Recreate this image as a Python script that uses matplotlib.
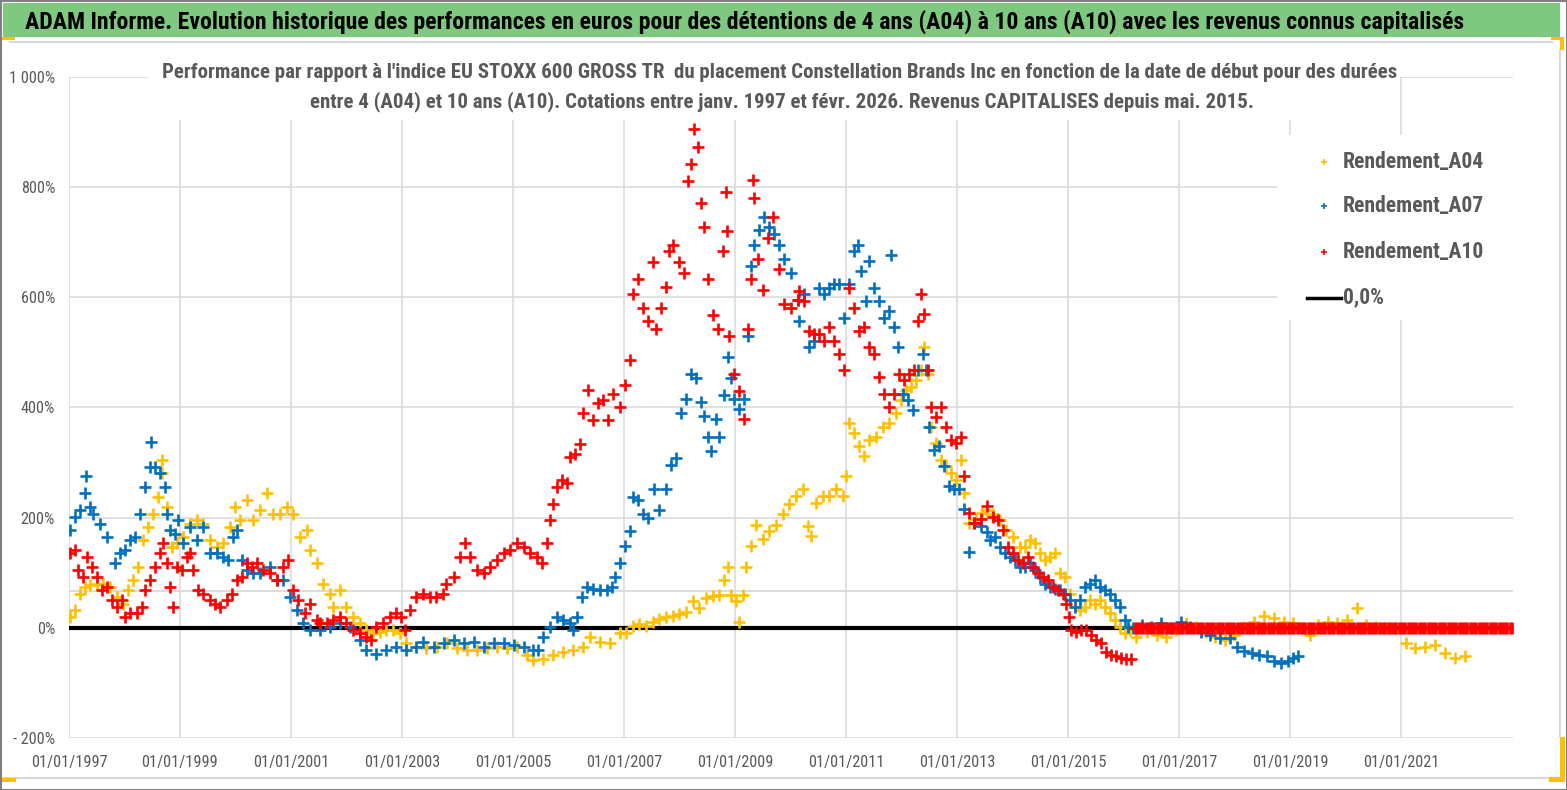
import numpy as np
import matplotlib
matplotlib.use("Agg")
import matplotlib.pyplot as plt
from matplotlib import font_manager as fm
from matplotlib.patches import Rectangle
from matplotlib.lines import Line2D

# ---------------- data (decimal year, % performance) ----------------
a04_years = [1997.02,1997.11,1997.20,1997.29,1997.38,1997.50,1997.62,1997.74,1997.86,1997.98,
             1998.07,1998.16,1998.25,1998.34,1998.43,1998.52,1998.61,1998.67,1998.68,1998.76,
             1998.85,1998.94,1999.06,1999.18,1999.30,1999.42,1999.54,1999.66,1999.78,1999.90,
             1999.99,2000.08,2000.20,2000.32,2000.44,2000.56,2000.68,2000.80,2000.92,2001.04,
             2001.16,2001.28,2001.34,2001.46,2001.58,2001.70,2001.76,2001.88,2002.00,2002.12,
             2002.24,2002.36,2002.48,2002.60,2002.72,2002.84,2002.96,2003.08,2003.26,2003.44,
             2003.63,2003.81,2003.99,2004.17,2004.35,2004.53,2004.71,2004.89,2005.07,2005.25,
             2005.37,2005.55,2005.73,2005.91,2006.09,2006.27,2006.39,2006.57,2006.75,2006.93,
             2007.04,2007.16,2007.28,2007.40,2007.52,2007.64,2007.76,2007.88,2008.00,2008.12,
             2008.24,2008.36,2008.48,2008.60,2008.72,2008.81,2008.87,2008.93,2009.02,2009.08,
             2009.14,2009.20,2009.29,2009.38,2009.50,2009.62,2009.74,2009.86,2009.98,2010.10,
             2010.22,2010.31,2010.37,2010.46,2010.58,2010.70,2010.82,2010.94,2011.01,2011.06,
             2011.15,2011.24,2011.33,2011.42,2011.54,2011.66,2011.78,2011.90,2011.99,2012.08,
             2012.17,2012.26,2012.35,2012.41,2012.47,2012.53,2012.62,2012.71,2012.80,2012.89,
             2012.98,2013.07,2013.13,2013.22,2013.34,2013.46,2013.53,2013.65,2013.77,2013.89,
             2014.01,2014.13,2014.22,2014.31,2014.40,2014.49,2014.58,2014.67,2014.76,2014.85,
             2014.94,2015.03,2015.12,2015.21,2015.30,2015.39,2015.48,2015.57,2015.66,2015.75,
             2015.84,2015.93,2016.02,2016.11,2016.23,2016.42,2016.60,2016.77,2016.95,2017.12,
             2017.30,2017.48,2017.65,2017.83,2018.00,2018.18,2018.36,2018.53,2018.71,2018.89,
             2019.06,2019.24,2019.37,2019.50,2019.68,2019.85,2020.03,2020.21,2020.38,2020.56,
             2020.74,2020.91,2021.09,2021.26,2021.44,2021.62,2021.79,2021.97,2022.15]
a04_values = [20,32,62,74,77,80,80,74,56,44,
              68,86,111,159,183,207,238,280,304,219,
              147,153,165,189,195,189,159,147,153,183,
              219,195,231,195,213,244,207,207,219,207,
              165,177,141,117,80,62,38,68,38,20,
              8,-4,-10,-7,-4,-4,-10,-28,-34,-37,
              -34,-28,-37,-40,-40,-37,-34,-37,-34,-50,
              -59,-56,-50,-44,-40,-34,-16,-25,-28,-10,
              -10,3,6,3,10,16,19,22,25,28,
              48,35,54,57,60,86,111,60,48,10,
              60,111,149,187,162,175,187,206,225,239,
              251,185,167,227,239,239,251,239,275,371,
              353,329,311,341,347,365,371,389,413,431,
              437,449,467,509,461,365,335,305,293,281,
              269,305,245,191,197,209,213,207,195,177,
              165,147,147,159,153,135,123,129,135,99,
              92,62,38,32,38,50,44,50,38,26,
              14,2,-10,-4,-16,-7,-13,-16,-4,8,
              2,-7,-16,-22,-13,2,11,21,18,11,
              8,-1,-13,5,11,8,15,36,5,2,
              -1,-1,-28,-37,-34,-31,-46,-55,-52]

a07_years = [1997.02,1997.11,1997.20,1997.29,1997.31,1997.38,1997.44,1997.56,1997.68,1997.83,
             1997.92,1998.01,1998.10,1998.19,1998.28,1998.37,1998.46,1998.47,1998.55,1998.64,
             1998.73,1998.76,1998.82,1998.91,1998.97,1999.06,1999.18,1999.30,1999.42,1999.54,
             1999.66,1999.78,1999.87,1999.96,2000.02,2000.11,2000.20,2000.32,2000.44,2000.62,
             2000.74,2000.86,2000.98,2001.10,2001.22,2001.34,2001.52,2001.70,2001.88,2002.06,
             2002.24,2002.36,2002.54,2002.72,2002.90,2003.08,2003.26,2003.38,2003.57,2003.75,
             2003.93,2004.11,2004.29,2004.47,2004.65,2004.83,2005.01,2005.19,2005.37,2005.46,
             2005.55,2005.67,2005.79,2005.91,2006.03,2006.09,2006.15,2006.24,2006.33,2006.45,
             2006.57,2006.69,2006.78,2006.84,2006.93,2007.01,2007.10,2007.16,2007.25,2007.34,
             2007.43,2007.55,2007.64,2007.76,2007.85,2007.94,2008.03,2008.12,2008.21,2008.30,
             2008.39,2008.45,2008.51,2008.57,2008.66,2008.72,2008.81,2008.87,2008.93,2008.99,
             2009.08,2009.17,2009.23,2009.29,2009.35,2009.44,2009.53,2009.62,2009.71,2009.80,
             2009.89,2010.01,2010.13,2010.16,2010.25,2010.34,2010.43,2010.52,2010.61,2010.70,
             2010.79,2010.88,2010.97,2011.06,2011.15,2011.21,2011.27,2011.36,2011.42,2011.51,
             2011.60,2011.69,2011.78,2011.81,2011.87,2011.93,2012.02,2012.11,2012.20,2012.29,
             2012.38,2012.44,2012.50,2012.59,2012.68,2012.77,2012.86,2012.95,2013.04,2013.13,
             2013.22,2013.31,2013.43,2013.54,2013.59,2013.68,2013.77,2013.86,2013.95,2014.04,
             2014.13,2014.22,2014.31,2014.40,2014.49,2014.58,2014.67,2014.76,2014.85,2014.94,
             2015.03,2015.12,2015.21,2015.30,2015.39,2015.48,2015.57,2015.66,2015.75,2015.84,
             2015.93,2016.02,2016.08,2016.17,2016.33,2016.50,2016.68,2016.86,2017.04,2017.20,
             2017.39,2017.56,2017.74,2017.92,2018.05,2018.18,2018.31,2018.44,2018.58,2018.71,
             2018.84,2018.97,2019.06,2019.15]
a07_values = [177,201,213,244,275,219,207,189,165,117,
              135,141,159,165,207,256,292,338,292,280,
              256,207,177,171,195,153,183,159,183,135,
              135,129,123,165,177,123,105,99,99,111,
              86,86,56,32,8,-4,-4,2,8,2,
              -22,-40,-47,-40,-34,-40,-34,-25,-34,-28,
              -22,-28,-25,-34,-28,-28,-31,-34,-40,-40,
              -16,2,20,14,8,-4,20,56,74,71,
              68,68,74,92,117,149,175,238,232,206,
              200,251,213,251,295,308,390,416,460,454,
              409,384,346,321,378,346,422,492,454,416,
              397,416,530,657,695,721,746,727,714,695,
              670,644,594,557,605,509,521,617,605,617,
              623,623,563,623,683,695,647,593,665,617,
              593,563,575,677,545,509,425,413,395,467,
              497,467,365,323,329,293,257,251,251,215,
              137,191,185,173,159,165,147,135,129,123,
              111,111,117,105,92,80,74,71,68,62,
              50,38,50,74,80,86,74,68,62,50,
              38,14,2,-1,5,2,8,-1,11,2,
              -7,-13,-19,-19,-34,-43,-46,-49,-52,-61,
              -64,-61,-55,-52]

a10_years = [1997.02,1997.11,1997.17,1997.26,1997.32,1997.41,1997.50,1997.59,1997.68,1997.77,
             1997.86,1997.95,1998.01,1998.10,1998.22,1998.31,1998.37,1998.46,1998.55,1998.64,
             1998.70,1998.76,1998.82,1998.88,1998.94,1999.03,1999.12,1999.18,1999.24,1999.33,
             1999.42,1999.54,1999.63,1999.72,1999.84,1999.93,2000.02,2000.11,2000.20,2000.29,
             2000.38,2000.50,2000.62,2000.74,2000.86,2000.95,2001.04,2001.13,2001.25,2001.34,
             2001.46,2001.52,2001.64,2001.76,2001.88,2002.00,2002.12,2002.24,2002.36,2002.45,
             2002.54,2002.66,2002.78,2002.90,2002.99,2003.05,2003.14,2003.26,2003.38,2003.50,
             2003.62,2003.74,2003.80,2003.93,2004.05,2004.14,2004.23,2004.35,2004.47,2004.59,
             2004.71,2004.83,2004.95,2005.07,2005.19,2005.31,2005.43,2005.52,2005.61,2005.67,
             2005.73,2005.79,2005.88,2005.97,2006.03,2006.12,2006.21,2006.27,2006.36,2006.45,
             2006.54,2006.63,2006.72,2006.81,2006.93,2007.01,2007.10,2007.16,2007.25,2007.34,
             2007.43,2007.52,2007.58,2007.67,2007.76,2007.82,2007.88,2008.00,2008.09,2008.15,
             2008.21,2008.27,2008.33,2008.39,2008.45,2008.51,2008.60,2008.69,2008.78,2008.84,
             2008.86,2008.90,2008.99,2009.08,2009.17,2009.23,2009.29,2009.33,2009.35,2009.41,
             2009.50,2009.59,2009.68,2009.80,2009.89,2010.01,2010.13,2010.16,2010.25,2010.34,
             2010.43,2010.52,2010.61,2010.70,2010.79,2010.88,2010.97,2011.06,2011.15,2011.24,
             2011.33,2011.42,2011.51,2011.60,2011.69,2011.78,2011.87,2011.96,2012.05,2012.14,
             2012.23,2012.29,2012.35,2012.41,2012.47,2012.53,2012.62,2012.71,2012.80,2012.89,
             2012.98,2013.07,2013.13,2013.22,2013.31,2013.43,2013.54,2013.65,2013.74,2013.83,
             2013.92,2014.01,2014.10,2014.19,2014.28,2014.37,2014.46,2014.55,2014.64,2014.73,
             2014.82,2014.91,2014.97,2015.02,2015.06,2015.15,2015.24,2015.33,2015.42,2015.51,
             2015.60,2015.69,2015.78,2015.87,2015.96,2016.05,2016.14]
a10_values = [135,141,105,92,129,111,92,68,74,50,
              38,50,20,26,26,38,68,86,111,135,
              153,117,74,38,111,105,129,135,105,68,
              62,50,44,38,50,62,86,92,117,111,
              117,105,99,86,111,123,68,50,26,44,
              14,8,8,14,20,8,-4,-10,-16,-22,
              2,8,20,26,20,-4,32,56,62,56,
              56,62,80,92,129,153,129,105,99,111,
              123,135,141,153,147,135,129,117,153,195,
              225,256,268,262,310,316,334,389,431,377,
              407,413,377,425,401,441,486,606,632,581,
              556,663,543,581,619,683,695,663,644,810,
              841,905,873,771,727,632,568,543,683,790,
              720,530,460,429,378,543,632,813,780,670,
              613,708,746,651,587,581,594,611,593,539,
              533,533,521,545,521,497,467,617,581,539,
              545,509,497,455,425,401,425,461,449,461,
              467,557,605,569,467,401,383,401,365,341,
              335,347,275,209,191,197,221,201,195,177,
              147,135,123,117,129,111,99,92,86,74,
              68,62,44,20,-4,-7,-4,-4,-13,-22,
              -28,-44,-50,-51,-54,-56,-56]
# after its last computable start date, A10 is plotted at 0 up to the end of the axis
a10_zero_from, a10_zero_to = 2016.20, 2023.00

series_names = ["Rendement_A04", "Rendement_A07", "Rendement_A10"]
series_colors = ["#FFC000", "#0070C0", "#FF0000"]
extra_level = 67          # light grey horizontal reference line
y_ticks = [-200, 0, 200, 400, 600, 800, 1000]
y_labels = ["- 200%", "0%", "200%", "400%", "600%", "800%", "1 000%"]
x_ticks = list(range(1997, 2022, 2))
x_labels = ["01/01/%d" % y for y in x_ticks]

title = ("ADAM Informe. Evolution historique des performances en euros pour des détentions "
         "de 4 ans (A04) à 10 ans (A10) avec les revenus connus capitalisés")
sub1 = ("Performance par rapport à l'indice EU STOXX 600 GROSS TR  du placement Constellation "
        "Brands Inc en fonction de la date de début pour des durées")
sub2 = ("entre 4 (A04) et 10 ans (A10). Cotations entre janv. 1997 et févr. 2026. "
        "Revenus CAPITALISES depuis mai. 2015.")

# ---------------- fonts: prefer a narrow face (reference uses Calibri) ----------------
entries = fm.fontManager.ttflist
names = {f.name for f in entries}
FONT, STRETCH = None, "normal"
for cand in ["Liberation Sans Narrow", "Arial Narrow", "Roboto Condensed",
             "Open Sans Condensed", "DejaVu Sans Condensed", "Noto Sans Condensed"]:
    if cand in names:
        FONT = cand
        break
if FONT is None:
    for f in entries:
        if f.name in ("DejaVu Sans", "Noto Sans", "Open Sans") and \
                str(f.stretch) in ("condensed", "semi-condensed"):
            FONT, STRETCH = f.name, "condensed"
            break
if FONT is None:
    FONT = "Lato" if "Lato" in names else "Liberation Sans"
FAM = [FONT, "DejaVu Sans"]

W, H = 1567, 790
fig = plt.figure(figsize=(W / 100, H / 100), dpi=100)
fig.patch.set_facecolor("white")
renderer = fig.canvas.get_renderer()

def fx(px):
    return px / W

def fy(py):
    return 1 - py / H

def fit_size(text, target_px, weight="normal"):
    t = fig.text(0, 0, text, fontsize=20, fontweight=weight, family=FAM,
                 fontstretch=STRETCH)
    w = t.get_window_extent(renderer).width
    t.remove()
    return 20 * target_px / w

GRID = "#d9d9d9"
GREY_TXT = "#595959"

ax = fig.add_axes([fx(69), fy(738), fx(1513) - fx(69), fy(76.7) - fy(738)])
ax.set_xlim(1997, 2023.02)
ax.set_ylim(-200, 1000)
for s in ax.spines.values():
    s.set_visible(False)
for y in y_ticks:
    ax.axhline(y, color=GRID, lw=1.1, zorder=0)
for x in x_ticks:
    ax.axvline(x, color=GRID, lw=1.1, zorder=0)
ax.axhline(extra_level, color=GRID, lw=1.3, zorder=0)
ax.axhline(0, color="black", lw=3.0, zorder=1)

mk = dict(linestyle="none", marker="+", ms=8.5, mew=1.9)
ax.plot(a04_years, a04_values, color=series_colors[0], zorder=2, **mk)
ax.plot(a07_years, a07_values, color=series_colors[1], zorder=3, **mk)
ax.plot(a10_years, a10_values, color=series_colors[2], zorder=4, **mk)
zero_x = np.arange(a10_zero_from, a10_zero_to + 1e-9, 0.04)
ax.plot(zero_x, np.zeros_like(zero_x), color=series_colors[2], zorder=4, **mk)

tick_fs = fit_size("01/01/1997", 76)
ax.set_xticks(x_ticks)
ax.set_xticklabels(x_labels, family=FAM, fontsize=tick_fs, color=GREY_TXT,
                   fontstretch=STRETCH)
ax.set_yticks(y_ticks)
ax.set_yticklabels(y_labels, family=FAM, fontsize=tick_fs, color=GREY_TXT,
                   fontstretch=STRETCH)
ax.tick_params(axis="both", length=0)
ax.tick_params(axis="x", pad=12)
ax.tick_params(axis="y", pad=10)

# ---------------- decorations ----------------
def frect(x0, y0, x1, y1, **kw):
    r = Rectangle((fx(x0), fy(y1)), fx(x1) - fx(x0), fy(y0) - fy(y1),
                  transform=fig.transFigure, **kw)
    fig.add_artist(r)
    return r

frect(3, 3, 1560, 37, facecolor="#7ec880", edgecolor="none", zorder=1)
fig.add_artist(Line2D([fx(10), fx(1552)], [fy(42), fy(42)], color=GRID, lw=1.5,
                      transform=fig.transFigure))
fig.add_artist(Line2D([fx(0), fx(1552)], [fy(777.5), fy(777.5)], color=GRID, lw=1.5,
                      transform=fig.transFigure))
fig.add_artist(Line2D([fx(1560), fx(1560)], [fy(50), fy(737)], color=GRID, lw=1.5,
                      transform=fig.transFigure))
frect(0, 37, 15, 40, facecolor="#FFC000", edgecolor="none", zorder=2)
frect(0, 778, 16, 782, facecolor="#FFC000", edgecolor="none", zorder=2)
frect(1560, 737, 1565, 782, facecolor="#FFC000", edgecolor="none", zorder=2)
frect(1549, 777, 1565, 782, facecolor="#FFC000", edgecolor="none", zorder=2)
frect(1551, 37, 1564, 40, facecolor="#FFC000", edgecolor="none", zorder=2)
frect(1560, 37, 1564, 50, facecolor="#FFC000", edgecolor="none", zorder=2)
frect(0.5, 0.5, 1566.5, 789.5, facecolor="none", edgecolor="#808080", lw=1.5, zorder=5)

# white boxes behind subtitle and legend
frect(148, 58, 1400, 120, facecolor="white", edgecolor="none", zorder=1)
frect(1277, 135, 1513, 320, facecolor="white", edgecolor="none", zorder=1)

# title & subtitle
fig.text(fx(25), fy(22), title, family=FAM, fontstretch=STRETCH,
         fontsize=fit_size(title, 1435, 600), fontweight=600,
         color="black", ha="left", va="center", zorder=3)
sfs = fit_size(sub1, 1234, "bold")
fig.text(fx(780), fy(73), sub1, family=FAM, fontstretch=STRETCH, fontsize=sfs,
         fontweight="bold", color=GREY_TXT, ha="center", va="center", zorder=3)
fig.text(fx(781.5), fy(102), sub2, family=FAM, fontstretch=STRETCH, fontsize=sfs,
         fontweight="bold", color=GREY_TXT, ha="center", va="center", zorder=3)

# legend
lfs = fit_size("Rendement_A04", 141, "bold")
leg_y = [161.7, 206, 251.7]
for name, col, yy in zip(series_names, series_colors, leg_y):
    fig.add_artist(Line2D([fx(1324)], [fy(yy)], marker="+", ms=4, mew=1.2, color=col,
                          linestyle="none", transform=fig.transFigure, zorder=3))
    fig.text(fx(1343), fy(yy), name, family=FAM, fontstretch=STRETCH, fontsize=lfs,
             fontweight="bold", color=GREY_TXT, ha="left", va="center", zorder=3)
fig.add_artist(Line2D([fx(1307), fx(1341)], [fy(297.7), fy(297.7)], color="black", lw=2.5,
                      transform=fig.transFigure, zorder=3))
fig.text(fx(1343), fy(297.7), "0,0%", family=FAM, fontstretch=STRETCH, fontsize=lfs,
         fontweight="bold", color=GREY_TXT, ha="left", va="center", zorder=3)

fig.savefig("out.png", dpi=100, facecolor="white")
